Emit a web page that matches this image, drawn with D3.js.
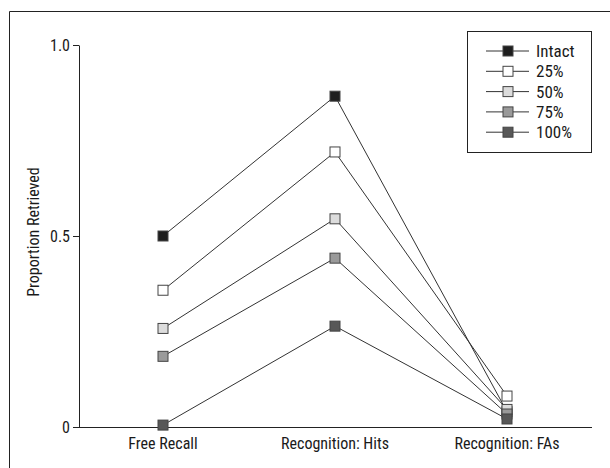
<!DOCTYPE html>
<html><head><meta charset="utf-8">
<script src="https://cdn.jsdelivr.net/npm/d3@7"></script>
<style>body{margin:0;background:#fff}svg{display:block}text{font-family:"Liberation Sans Narrow","Roboto Condensed","Liberation Sans",Arial,sans-serif;fill:#1a1a1a}</style>
</head><body><svg id="c" width="610" height="468"></svg>
<script>
const categories = ["Free Recall", "Recognition: Hits", "Recognition: FAs"];
const seriesNames = ["Intact", "25%", "50%", "75%", "100%"];
const intact = [0.50, 0.866, 0.04];
const pct25 = [0.358, 0.720, 0.081];
const pct50 = [0.258, 0.545, 0.046];
const pct75 = [0.185, 0.442, 0.034];
const pct100 = [0.005, 0.264, 0.021];
const fills = ["#1e1e1e", "#ffffff", "#dcdcdc", "#9a9a9a", "#585858"];
const yTicks = [0, 0.5, 1.0];
const yTickLabels = ["0", "0.5", "1.0"];

const series = [intact, pct25, pct50, pct75, pct100];
const svg = d3.select("#c");

svg.append("path").attr("d","M9.5,468 V11.5 H610").attr("fill","none").attr("stroke","#222").attr("stroke-width",1);

const x = d3.scalePoint().domain(categories).range([163, 507]);
const y = d3.scaleLinear().domain([0, 1]).range([427, 45]);

const ya = svg.append("g").attr("transform","translate(79,0)")
  .call(d3.axisLeft(y).tickValues(yTicks).tickFormat((d,i)=>yTickLabels[i]).tickSize(6).tickSizeOuter(0));
ya.select(".domain").attr("stroke","#222");
ya.selectAll(".tick line").attr("stroke","#222");
ya.selectAll(".tick text").attr("font-size",16).attr("x",-9).style("font-family",null).attr("fill","#1a1a1a");

svg.append("line").attr("x1",79).attr("x2",592).attr("y1",y(0)+0.5).attr("y2",y(0)+0.5).attr("stroke","#222");
svg.selectAll(".cat").data(categories).enter().append("text")
  .attr("x",d=>x(d)).attr("y",449).attr("text-anchor","middle").attr("font-size",16).text(d=>d);

svg.append("text").attr("transform","translate(39,232) rotate(-90)").attr("text-anchor","middle").attr("font-size",16).text("Proportion Retrieved");

const line = d3.line().x((d,i)=>x(categories[i])).y(d=>y(d));
series.forEach((s,k)=>{
  svg.append("path").datum(s).attr("d",line).attr("fill","none").attr("stroke","#333").attr("stroke-width",1);
});
series.forEach((s,k)=>{
  svg.selectAll(".m"+k).data(s).enter().append("rect")
    .attr("x",(d,i)=>x(categories[i])-5).attr("y",d=>y(d)-5).attr("width",10).attr("height",10)
    .attr("fill",fills[k]).attr("stroke","#444").attr("stroke-width",1);
});

const lg = svg.append("g");
lg.append("rect").attr("x",467.5).attr("y",31.5).attr("width",124).attr("height",121).attr("fill","#fff").attr("stroke","#222");
seriesNames.forEach((n,k)=>{
  const ly = 51 + k*20.3;
  lg.append("line").attr("x1",486).attr("x2",529).attr("y1",ly).attr("y2",ly).attr("stroke","#333");
  lg.append("rect").attr("x",503).attr("y",ly-5).attr("width",10).attr("height",10).attr("fill",fills[k]).attr("stroke","#444");
  lg.append("text").attr("x",536).attr("y",ly+6).attr("font-size",17).text(n);
});
</script></body></html>
